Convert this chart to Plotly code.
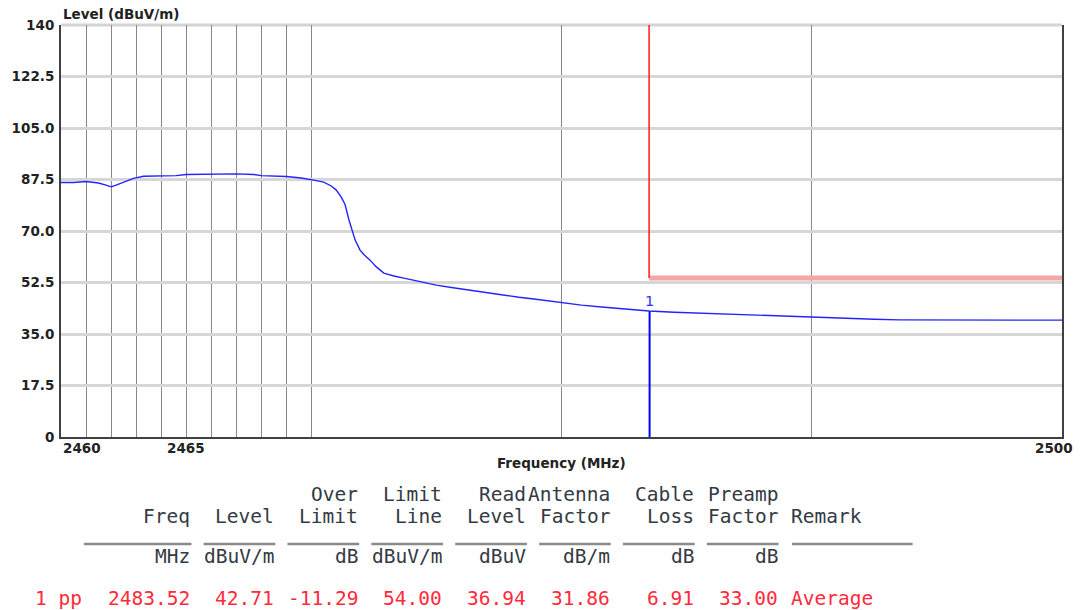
import plotly.graph_objects as go

# ---------------- data ----------------
freq_mhz = [2460.0, 2460.5, 2461.0, 2461.5, 2461.8, 2462.0, 2462.2, 2462.5, 2462.9, 2463.3,
            2464.0, 2464.6, 2465.0, 2466.0, 2467.0, 2467.7, 2468.0, 2469.0, 2469.6, 2470.1,
            2470.5, 2470.8, 2471.0, 2471.2, 2471.35, 2471.5, 2471.6, 2471.75, 2471.95, 2472.1,
            2472.35, 2472.6, 2472.9, 2473.3, 2473.7, 2474.3, 2475.0, 2475.6, 2476.3, 2477.0,
            2477.6, 2478.3, 2478.9, 2479.5, 2480.1, 2480.8, 2481.6, 2482.5, 2483.5, 2484.5,
            2485.5, 2486.5, 2487.5, 2488.5, 2489.5, 2490.5, 2491.5, 2492.5, 2493.5, 2495.0,
            2496.5, 2498.0, 2500.0]
level_dbuv = [86.5, 86.5, 86.8, 86.3, 85.6, 85.0, 85.6, 86.7, 87.9, 88.6,
              88.7, 88.8, 89.2, 89.3, 89.4, 89.2, 88.8, 88.5, 88.0, 87.3,
              86.6, 85.3, 83.9, 81.5, 79.0, 74.0, 71.0, 67.0, 63.5, 62.0,
              60.1, 57.8, 55.7, 54.7, 54.0, 52.9, 51.6, 50.8, 49.9, 49.0,
              48.2, 47.5, 46.9, 46.2, 45.5, 44.8, 44.2, 43.5, 42.8, 42.4,
              42.1, 41.6, 41.3, 41.0, 40.7, 40.4, 40.2, 40.0, 39.8, 39.8,
              39.7, 39.8, 39.7]

limit_start_mhz = 2483.5
limit_end_mhz = 2500.0
limit_level = 54.0
limit_top = 140.0

marker_freq = 2483.52
marker_level = 42.71
marker_label = "1"

y_tickvals = [0, 17.5, 35, 52.5, 70, 87.5, 105, 122.5, 140]
y_ticktext = ["0", "17.5", "35.0", "52.5", "70.0", "87.5", "105.0", "122.5", "140"]
x_gridvals = [2461, 2462, 2463, 2464, 2465, 2466, 2467, 2468, 2469, 2470, 2480, 2490]
x_ticklabels = [2460, 2465, 2500]

hdr_row1 = ["", "", "Over", "Limit", "Read", "Antenna", "Cable", "Preamp"]
hdr_row2 = ["Freq", "Level", "Limit", "Line", "Level", "Factor", "Loss", "Factor"]
hdr_units = ["MHz", "dBuV/m", "dB", "dBuV/m", "dBuV", "dB/m", "dB", "dB"]
row_values = ["2483.52", "42.71", "-11.29", "54.00", "36.94", "31.86", "6.91", "33.00"]
row_id = "1 pp"
row_remark = "Average"
remark_header = "Remark"

# ---------------- layout helpers ----------------
W, H = 1083, 610
L, R, T, B = 57, 21, 25, 173
PW, PH = W - L - R, H - T - B


def px_x(p):
    return (p - L) / PW


def px_y(p):
    return (H - B - p) / PH


SANS = "DejaVu Sans"

fig = go.Figure()

fig.add_trace(go.Scatter(x=freq_mhz, y=level_dbuv, mode="lines",
                         line=dict(color="#2323ff", width=1.4), hoverinfo="skip"))
# limit line
fig.add_trace(go.Scatter(x=[limit_start_mhz, limit_end_mhz], y=[limit_level, limit_level],
                         mode="lines", line=dict(color="#f5a6a6", width=5), hoverinfo="skip"))
fig.add_trace(go.Scatter(x=[limit_start_mhz, limit_start_mhz], y=[limit_top, limit_level],
                         mode="lines", line=dict(color="#ff1a1a", width=1.5), hoverinfo="skip"))
# marker
fig.add_trace(go.Scatter(x=[marker_freq, marker_freq], y=[0, marker_level],
                         mode="lines", line=dict(color="#0000ff", width=2), hoverinfo="skip"))

annotations = []
annotations.append(dict(x=marker_freq, y=marker_level, xref="x", yref="y", text=marker_label,
                        showarrow=False, yanchor="bottom", yshift=0,
                        font=dict(family=SANS, size=14.5, color="#3030ff")))

# axis titles
annotations.append(dict(x=0, y=1, xref="paper", yref="paper", text="<b>Level (dBuV/m)</b>",
                        showarrow=False, xanchor="left", yanchor="bottom", yshift=1,
                        font=dict(family=SANS, size=13.5, color="#222")))
annotations.append(dict(x=0.5, y=px_y(463), xref="paper", yref="paper", text="<b>Frequency (MHz)</b>",
                        showarrow=False, xanchor="center", yanchor="middle",
                        font=dict(family=SANS, size=13.5, color="#222")))

# x tick labels
for v in x_ticklabels:
    anchor = "left" if v == x_ticklabels[0] else ("right" if v == x_ticklabels[-1] else "center")
    shift = 13 if anchor == "right" else 0
    annotations.append(dict(x=v, y=0, xref="x", yref="paper", text="<b>%d</b>" % v,
                            showarrow=False, xanchor=anchor, yanchor="top", yshift=-1, xshift=shift,
                            font=dict(family=SANS, size=13.5, color="#222")))

# table
mono = dict(family="DejaVu Sans Mono", size=19.5, color="#333a44")
mono_red = dict(family="DejaVu Sans Mono", size=19.5, color="#ff2a3a")
col_right = [188 + 84.2 * i for i in range(8)]
for i, xr in enumerate(col_right):
    for txt, py, f in [(hdr_row1[i], 494, mono), (hdr_row2[i], 516, mono),
                       (hdr_units[i], 556, mono), (row_values[i], 598, mono_red)]:
        if txt:
            annotations.append(dict(x=px_x(xr), y=px_y(py), xref="paper", yref="paper", text=txt,
                                    showarrow=False, xanchor="right", yanchor="middle",
                                    borderpad=0, font=f))
annotations.append(dict(x=px_x(30), y=px_y(598), xref="paper", yref="paper", text=row_id.replace(" ", "\u00a0"),
                        showarrow=False, xanchor="left", yanchor="middle", borderpad=0, font=mono_red))
annotations.append(dict(x=px_x(789), y=px_y(598), xref="paper", yref="paper", text=row_remark,
                        showarrow=False, xanchor="left", yanchor="middle", borderpad=0, font=mono_red))
annotations.append(dict(x=px_x(789), y=px_y(516), xref="paper", yref="paper", text=remark_header,
                        showarrow=False, xanchor="left", yanchor="middle", borderpad=0, font=mono))

shapes = []
# top border (light, like grid)
shapes.append(dict(type="line", xref="paper", yref="paper", x0=0, x1=1, y0=1, y1=1,
                   line=dict(color="#d4d4d4", width=3), layer="below"))
# table underlines
starts = [80] + [c - 72 for c in col_right[1:]]
for s, e in zip(starts, col_right):
    shapes.append(dict(type="line", xref="paper", yref="paper", x0=px_x(s), x1=px_x(e),
                       y0=px_y(544), y1=px_y(544), line=dict(color="#8a8a8a", width=2.5)))
shapes.append(dict(type="line", xref="paper", yref="paper", x0=px_x(791), x1=px_x(912),
                   y0=px_y(544), y1=px_y(544), line=dict(color="#8a8a8a", width=2.5)))

fig.update_layout(
    width=W, height=H,
    margin=dict(l=L, r=R, t=T, b=B),
    paper_bgcolor="white", plot_bgcolor="white",
    showlegend=False,
    annotations=annotations,
    shapes=shapes,
    xaxis=dict(range=[2460, 2500], tickvals=x_gridvals, showticklabels=False, ticks="",
               showgrid=True, gridcolor="#888888", gridwidth=1.2,
               showline=True, linecolor="#404040", linewidth=2, mirror=False, zeroline=False),
    yaxis=dict(range=[0, 140], tickvals=y_tickvals, ticktext=y_ticktext, ticks="",
               showgrid=True, gridcolor="#d6d6d6", gridwidth=2.5,
               showline=True, linecolor="#404040", linewidth=2, mirror=True, zeroline=False,
               tickfont=dict(family=SANS, size=13.5, color="#222", weight="bold"),
               ticklabelstandoff=2),
)

fig.write_html("out.html", config={"displayModeBar": False},
               post_script="document.body.style.margin='0';document.body.style.padding='0';document.body.style.overflow='hidden';")
